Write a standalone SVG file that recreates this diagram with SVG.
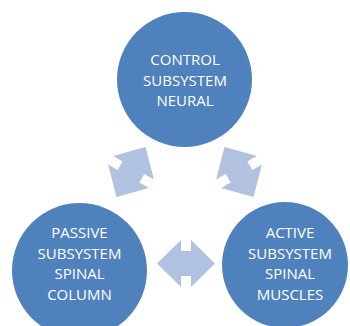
<svg xmlns="http://www.w3.org/2000/svg" width="350" height="326" viewBox="0 0 350 326">
<defs>
<style>
.node{fill:#4F81BD}
.lbl{font-family:"Open Sans","Liberation Sans",sans-serif;font-size:15px;fill:#FFFFFF;text-anchor:middle}
.arr{fill:#B0C2DF}
</style>
<polygon id="dbl" points="-29,0 -5,-23.5 -5,-12.5 5,-12.5 5,-23.5 29,0 5,23.5 5,12.5 -5,12.5 -5,23.5"/>
</defs>
<rect width="350" height="326" fill="#FFFFFF"/>
<g id="connectors" class="arr">
<use href="#dbl" transform="translate(131,172) rotate(-60)"/>
<use href="#dbl" transform="translate(239,172) rotate(60)"/>
<use href="#dbl" transform="translate(186,263.5)"/>
</g>
<g id="control">
<circle class="node" cx="184.5" cy="79.5" r="67.5"/>
<text class="lbl" x="185" y="65">CONTROL</text>
<text class="lbl" x="185" y="85.5">SUBSYSTEM</text>
<text class="lbl" x="185" y="106">NEURAL</text>
</g>
<g id="passive">
<circle class="node" cx="79.5" cy="270.5" r="67.5"/>
<text class="lbl" x="79.5" y="238">PASSIVE</text>
<text class="lbl" x="79.5" y="258.5">SUBSYSTEM</text>
<text class="lbl" x="79.5" y="279">SPINAL</text>
<text class="lbl" x="79.5" y="299.5">COLUMN</text>
</g>
<g id="active">
<circle class="node" cx="285" cy="265" r="63"/>
<text class="lbl" x="290" y="238">ACTIVE</text>
<text class="lbl" x="290" y="258.5">SUBSYSTEM</text>
<text class="lbl" x="290" y="279">SPINAL</text>
<text class="lbl" x="290" y="299.5">MUSCLES</text>
</g>
</svg>
